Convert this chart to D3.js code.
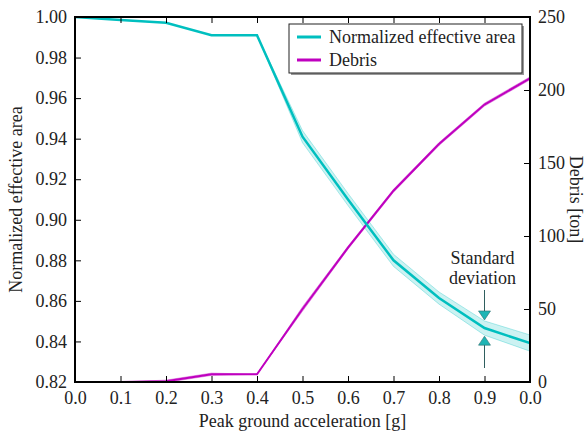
<html>
<head>
<script src="https://cdn.jsdelivr.net/npm/d3@7"></script>
</head>
<body style="margin:0">
<script>
    //Data
    var pga = [0.0, 0.1, 0.2, 0.3, 0.4, 0.5, 0.6, 0.7, 0.8, 0.9, 1.0];
    var areaMean = [1.000, 0.9985, 0.9972, 0.991, 0.991, 0.941, 0.910, 0.880, 0.8614, 0.8466, 0.8392];
    var areaStd = [0, 0, 0, 0, 0, 0.003, 0.003, 0.003, 0.003, 0.0035, 0.004];
    var debrisMean = [0, 0, 0.5, 5.3, 5.3, 50, 92, 131, 163, 190, 208];
    var debrisStd = [0, 0, 0.8, 0.8, 0, 1.5, 1, 1, 1, 1, 1];

    var xTicks = [0, 0.1, 0.2, 0.3, 0.4, 0.5, 0.6, 0.7, 0.8, 0.9, 1.0];
    var xTickLabels = ["0.0", "0.1", "0.2", "0.3", "0.4", "0.5", "0.6", "0.7", "0.8", "0.9", "0.0"];
    var leftTicks = [0.82, 0.84, 0.86, 0.88, 0.90, 0.92, 0.94, 0.96, 0.98, 1.00];
    var rightTicks = [0, 50, 100, 150, 200, 250];
    var legendLabels = ["Normalized effective area", "Debris"];

    //Colours
    var teal = "#00bfbf";
    var magenta = "#bf00bf";
    var fontFam = "'Liberation Serif'";

    //Basic sizing ("top" is window.top, hence the p- prefix)
    var pLeft = 75, pRight = 530, pTop = 17, pBottom = 382;
    var fontSize = "18px";

    var svg = d3.select("body").append("svg").attr("width", 585).attr("height", 434);

    var x = d3.scaleLinear().domain([0, 1]).range([pLeft, pRight]);
    var yL = d3.scaleLinear().domain([0.82, 1.0]).range([pBottom, pTop]);
    var yR = d3.scaleLinear().domain([0, 250]).range([pBottom, pTop]);

    svg.append("clipPath").attr("id", "plot-clip")
        .append("rect")
        .attr("x", pLeft).attr("y", pTop)
        .attr("width", pRight - pLeft).attr("height", pBottom - pTop);

    var plot = svg.append("g").attr("clip-path", "url(#plot-clip)");

    var rows = pga.map(function(p, i) {
        return { x: p, a: areaMean[i], as: areaStd[i], d: debrisMean[i], ds: debrisStd[i] };
    });

    //Std bands
    var areaBand = d3.area()
        .x(function(d) { return x(d.x); })
        .y0(function(d) { return yL(d.a - d.as); })
        .y1(function(d) { return yL(d.a + d.as); });
    var debrisBand = d3.area()
        .x(function(d) { return x(d.x); })
        .y0(function(d) { return yR(d.d - d.ds); })
        .y1(function(d) { return yR(d.d + d.ds); });

    plot.append("path").datum(rows)
        .attr("d", debrisBand)
        .attr("fill", magenta).attr("fill-opacity", 0.25)
        .attr("stroke", magenta).attr("stroke-opacity", 0.35).attr("stroke-width", 1);

    plot.append("path").datum(rows)
        .attr("d", areaBand)
        .attr("fill", teal).attr("fill-opacity", 0.2)
        .attr("stroke", teal).attr("stroke-opacity", 0.3).attr("stroke-width", 1);

    //Mean lines
    plot.append("path").datum(rows)
        .attr("d", d3.line().x(function(d) { return x(d.x); }).y(function(d) { return yR(d.d); }))
        .attr("fill", "none").attr("stroke", magenta).attr("stroke-width", 2);

    plot.append("path").datum(rows)
        .attr("d", d3.line().x(function(d) { return x(d.x); }).y(function(d) { return yL(d.a); }))
        .attr("fill", "none").attr("stroke", teal).attr("stroke-width", 2.5);

    //Axes, ticks pointing inwards
    var tickLen = 6;
    var bottomAxis = d3.axisBottom(x).tickValues(xTicks)
        .tickFormat(function(d, i) { return xTickLabels[i]; })
        .tickSizeInner(-tickLen).tickSizeOuter(0).tickPadding(9);
    var topAxis = d3.axisTop(x).tickValues(xTicks).tickFormat("")
        .tickSizeInner(-tickLen).tickSizeOuter(0);
    var leftAxis = d3.axisLeft(yL).tickValues(leftTicks)
        .tickFormat(d3.format(".2f"))
        .tickSizeInner(-tickLen).tickSizeOuter(0).tickPadding(8);
    var rightAxis = d3.axisRight(yR).tickValues(rightTicks)
        .tickFormat(d3.format("d"))
        .tickSizeInner(-tickLen).tickSizeOuter(0).tickPadding(8);

    function label(sel) {
        sel.attr("font-family", "Liberation Serif")
            .style("font-family", fontFam)
            .style("font-size", fontSize)
            .style("fill", "#222");
    }

    function styleAxis(g) {
        g.attr("font-family", null).attr("font-size", null);
        g.select(".domain").remove();
        g.selectAll(".tick line").attr("stroke", "#000").attr("stroke-width", 1);
        g.selectAll(".tick text").call(label);
    }

    svg.append("g").attr("transform", "translate(0," + pBottom + ")").call(bottomAxis).call(styleAxis);
    svg.append("g").attr("transform", "translate(0," + pTop + ")").call(topAxis).call(styleAxis);
    svg.append("g").attr("transform", "translate(" + pLeft + ",0)").call(leftAxis).call(styleAxis);
    svg.append("g").attr("transform", "translate(" + pRight + ",0)").call(rightAxis).call(styleAxis);

    //Frame
    svg.append("rect")
        .attr("x", pLeft).attr("y", pTop)
        .attr("width", pRight - pLeft).attr("height", pBottom - pTop)
        .attr("fill", "none").attr("stroke", "#000").attr("stroke-width", 2);

    //Axis titles
    svg.append("text")
        .attr("x", (pLeft + pRight) / 2).attr("y", 427)
        .attr("text-anchor", "middle").call(label)
        .text("Peak ground acceleration [g]");
    svg.append("text")
        .attr("transform", "translate(22," + ((pTop + pBottom) / 2) + ") rotate(-90)")
        .attr("text-anchor", "middle").call(label)
        .text("Normalized effective area");
    svg.append("text")
        .attr("transform", "translate(570," + ((pTop + pBottom) / 2) + ") rotate(90)")
        .attr("text-anchor", "middle").call(label)
        .text("Debris [ton]");

    //Legend
    var lg = svg.append("g").attr("transform", "translate(289,24)");
    lg.append("rect").attr("x", 2).attr("y", 2).attr("width", 233).attr("height", 49)
        .attr("fill", "#999");
    lg.append("rect").attr("x", 0).attr("y", 0).attr("width", 233).attr("height", 49)
        .attr("fill", "#fff").attr("stroke", "#222").attr("stroke-width", 1);
    [teal, magenta].forEach(function(c, i) {
        var yy = 13 + i * 23;
        lg.append("line").attr("x1", 8).attr("x2", 32).attr("y1", yy).attr("y2", yy)
            .attr("stroke", c).attr("stroke-width", 3);
        lg.append("text").attr("x", 40).attr("y", yy + 6)
            .call(label).text(legendLabels[i]);
    });

    //Standard deviation annotation
    var ax = x(0.9);
    var ann = svg.append("g");
    ann.append("text").attr("x", ax - 2).attr("y", 264)
        .attr("text-anchor", "middle").call(label).text("Standard");
    ann.append("text").attr("x", ax - 2).attr("y", 284)
        .attr("text-anchor", "middle").call(label).text("deviation");
    var yTop = yL(areaMean[9] + areaStd[9]);
    var yBot = yL(areaMean[9] - areaStd[9]);
    ann.append("line").attr("x1", ax).attr("x2", ax).attr("y1", 290).attr("y2", yTop - 8)
        .attr("stroke", "#2f5f5f").attr("stroke-width", 1);
    ann.append("path")
        .attr("d", "M" + (ax - 6) + "," + (yTop - 10) + "L" + (ax + 6) + "," + (yTop - 10) + "L" + ax + "," + (yTop - 1) + "Z")
        .attr("fill", "#1fb5b5").attr("stroke", "#2f6f6f").attr("stroke-width", 0.6);
    ann.append("line").attr("x1", ax).attr("x2", ax).attr("y1", 368).attr("y2", yBot + 8)
        .attr("stroke", "#2f5f5f").attr("stroke-width", 1);
    ann.append("path")
        .attr("d", "M" + (ax - 6) + "," + (yBot + 10) + "L" + (ax + 6) + "," + (yBot + 10) + "L" + ax + "," + (yBot + 1) + "Z")
        .attr("fill", "#1fb5b5").attr("stroke", "#2f6f6f").attr("stroke-width", 0.6);
</script>
</body>
</html>
